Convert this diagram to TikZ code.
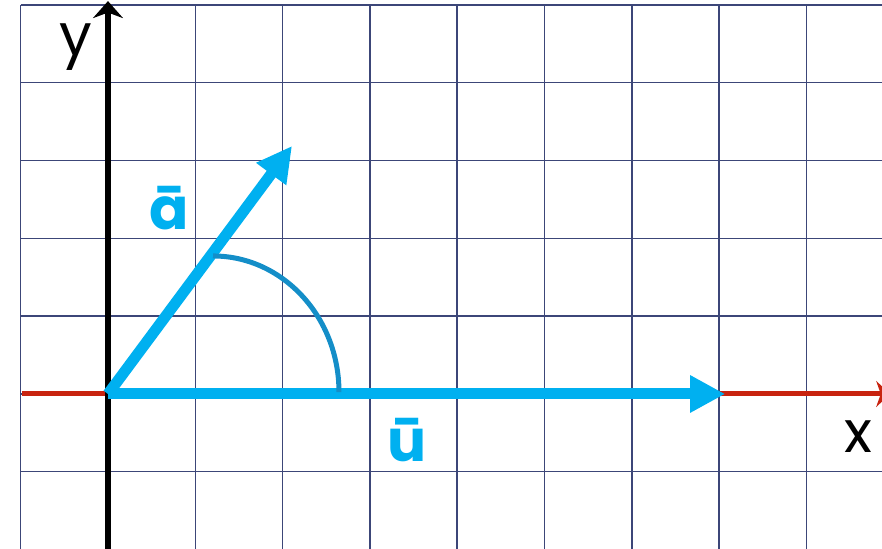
\documentclass[tikz,border=0pt]{standalone}
\usepackage{fontspec}
\setmainfont{Poppins}
\usepackage{tikz}
\usetikzlibrary{arrows.meta}
\definecolor{vecblue}{RGB}{0,176,240}
\definecolor{arcblue}{RGB}{20,142,200}
\definecolor{axisred}{RGB}{200,35,15}
\definecolor{gridline}{RGB}{60,70,120}

\begin{document}
\begin{tikzpicture}[
  x=87.3pt, y=77.8pt,
  gridl/.style={draw=gridline, line width=1.4pt},
  axis/.style={line width=5.5pt},
  vec/.style={vecblue, line width=11pt, -{Triangle[length=35pt,width=35pt]}},
  lbl/.style={font=\fontsize{58}{60}\selectfont, anchor=base, inner sep=0pt},
  veclbl/.style={lbl, text=vecblue, font=\fontsize{58}{60}\selectfont\bfseries}
]
\useasboundingbox (-1.237,-1.992) rectangle (8.866,5.064);
% grid
\foreach \i in {-1,...,8} \draw[gridl] (\i,-2) -- (\i,5);
\foreach \j in {-2,...,5} \draw[gridl] (-1,\j) -- (8.9,\j);

\coordinate (O) at (0,0);
\coordinate (xstart) at (-0.985,0);
\coordinate (xend) at (8.96,0);
\coordinate (ybot) at (0,-2.05);
\coordinate (ytop) at (0,5.05);
\coordinate (u) at (7.07,0);
\coordinate (a) at (2.108,3.188);
\coordinate (arcstart) at (1.203,1.774);

% axes
\draw[axis, axisred, line width=5pt, -{Stealth[length=14pt,width=26pt]}] (xstart) -- (xend);
\draw[axis, black, -{Stealth[length=17pt,width=30pt]}] (ybot) -- (ytop);

% vectors and angle
\draw[vec] (O) -- (a);
\draw[vec] (O) -- (u);
\draw[arcblue, line width=5pt] (arcstart) arc[start angle=90, end angle=0, x radius=1.443, y radius=1.75];

\node[lbl] (xlabel) at (8.59,-0.746) {x};
\node[lbl] (ylabel) at (-0.367,4.357) {y};
\node[veclbl] (alabel) at (0.699,2.108) {ā};
\node[veclbl] (ulabel) at (3.425,-0.874) {ū};
\end{tikzpicture}
\end{document}
